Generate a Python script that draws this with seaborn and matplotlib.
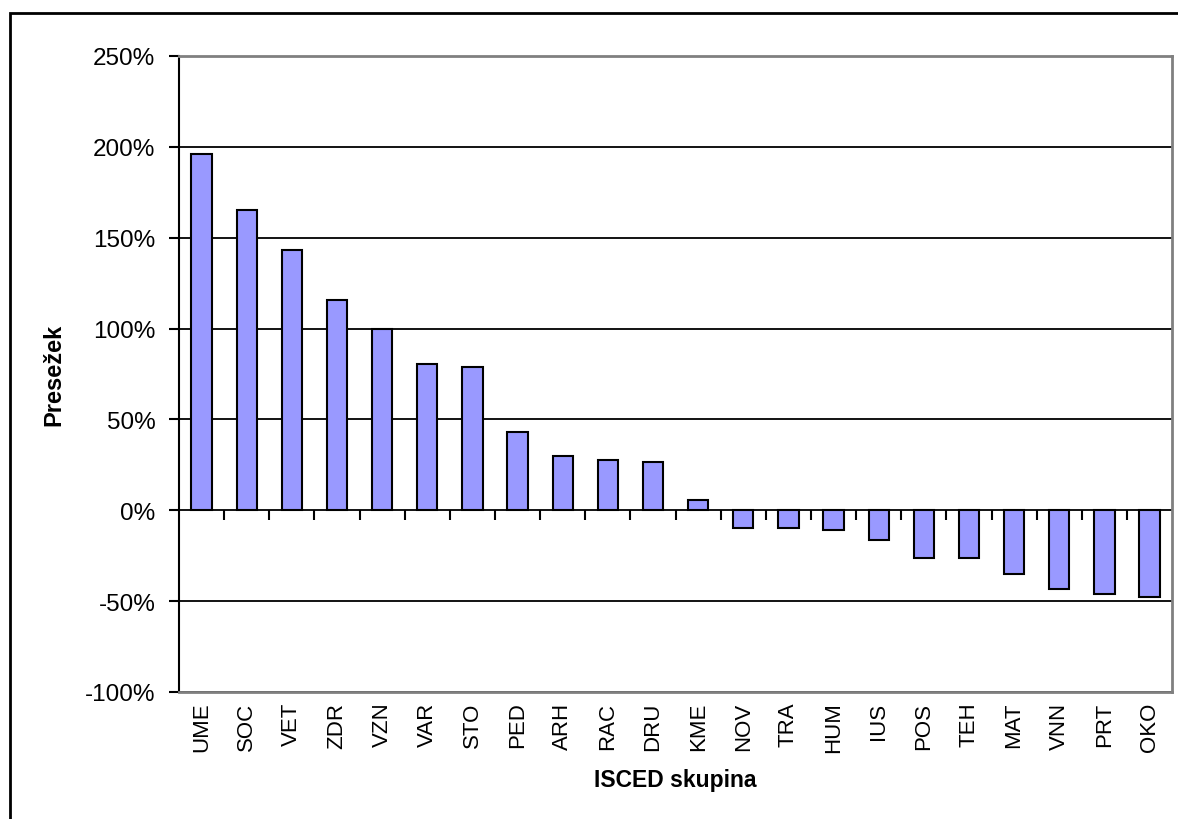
import matplotlib
matplotlib.use("Agg")
import matplotlib.pyplot as plt  # type: ignore
import seaborn as sns  # type: ignore
import pandas as pd  # type: ignore
from matplotlib.patches import Rectangle

# ISCED groups and surplus (%)
groups = ["UME", "SOC", "VET", "ZDR", "VZN", "VAR", "STO", "PED", "ARH", "RAC", "DRU",
          "KME", "NOV", "TRA", "HUM", "IUS", "POS", "TEH", "MAT", "VNN", "PRT", "OKO"]
surplus = [196, 165, 143, 115.5, 100, 80.5, 79, 43, 29.7, 27.5, 26.5,
           5.5, -10, -10, -11, -16.5, -26.3, -26.3, -35, -43.5, -46, -48]
y_ticks = [-100, -50, 0, 50, 100, 150, 200, 250]

df = pd.DataFrame({"group": groups, "surplus": surplus})

sns.set_style("white")
plt.rcParams["font.family"] = ["Liberation Sans", "DejaVu Sans"]
plt.rcParams["text.color"] = "black"
plt.rcParams["axes.labelcolor"] = "black"
plt.rcParams["xtick.color"] = "black"
plt.rcParams["ytick.color"] = "black"

fig = plt.figure(figsize=(11.78, 8.2), dpi=100)
ax = fig.add_axes([0.152, 0.155, 0.843, 0.7755])

sns.barplot(data=df, x="group", y="surplus", color="#9999FF", saturation=1,
            edgecolor="black", linewidth=1.5, width=0.45, ax=ax, zorder=3)

ax.set_ylim(y_ticks[0], y_ticks[-1])
ax.set_xlim(-0.5, len(groups) - 0.5)
ax.set_yticks(y_ticks)
ax.set_yticklabels([f"{t}%" for t in y_ticks], fontsize=17.5)
ax.yaxis.grid(True, color="black", linewidth=1.3)
ax.set_axisbelow(True)

# plot area border
for side in ["top", "right", "bottom"]:
    ax.spines[side].set_color("#808080")
    ax.spines[side].set_linewidth(2)
ax.spines["left"].set_color("black")
ax.spines["left"].set_linewidth(1.5)
ax.tick_params(axis="y", direction="out", length=7, width=1.5, pad=10, left=True)
ax.tick_params(axis="x", length=0, pad=7, labelsize=16, labelrotation=90)

# category axis crossing at 0 with ticks between bars
zero_pos = (0 - y_ticks[0]) / (y_ticks[-1] - y_ticks[0])
sec = ax.secondary_xaxis(zero_pos)
sec.set_xticks([i + 0.5 for i in range(len(groups) - 1)])
sec.set_xticklabels([])
sec.tick_params(direction="out", length=7, width=1.5, colors="black")
sec.spines["bottom"].set_visible(False)
sec.spines["top"].set_visible(False)

ax.set_xlabel("ISCED skupina", fontsize=16.5, fontweight="bold", labelpad=11)
ax.set_ylabel("Presežek", fontsize=17, fontweight="bold", labelpad=14)

# outer chart frame (clipped at right and bottom)
fig.patches.append(Rectangle((10 / 1178, -0.1), 1.2, 1.1 - 14 / 820,
                             transform=fig.transFigure, fill=False,
                             edgecolor="black", linewidth=2))

fig.savefig("out.png", dpi=100)
